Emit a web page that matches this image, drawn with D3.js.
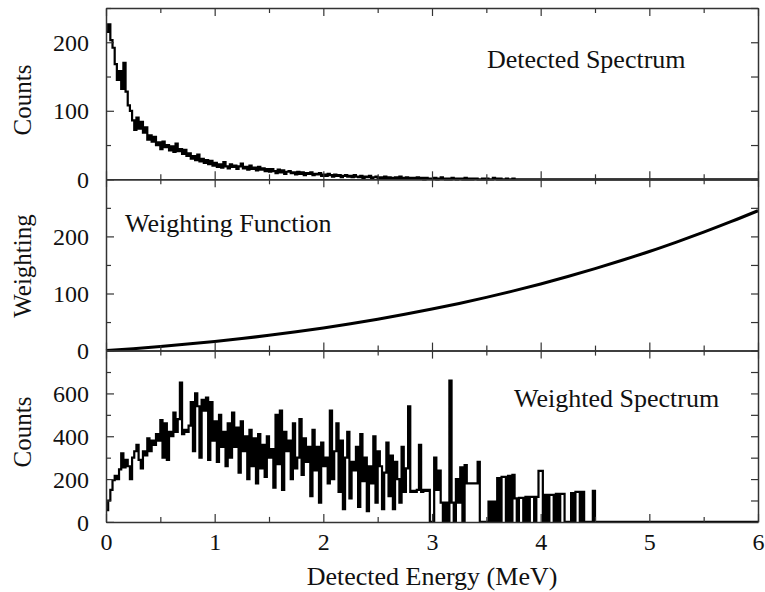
<!DOCTYPE html>
<html lang="en">
<head>
<meta charset="utf-8">
<title>Detected and Weighted Spectrum</title>
<style>
body { margin: 0; background: #fff; }
text { font-family: "Liberation Serif", "DejaVu Serif", serif; fill: #111; }
.tick text { font-size: 24px; }
.domain { stroke: #333; stroke-width: 1.5px; }
.tick line { stroke: #333; stroke-width: 1.2px; }
.panelTitle { font-size: 26px; }
.axisTitle { font-size: 25px; text-anchor: middle; }
.spec { fill: none; stroke: #000; }
</style>
</head>
<body>
<div id="chart"></div>
<script src="https://d3js.org/d3.v7.min.js"></script>
<script>
// bin width of both spectra (MeV)
var binWidth = 0.02;

// detected spectrum, counts per 0.02 MeV bin starting at 0 MeV
var detectedCounts = [
  215, 226, 203, 192, 168, 145, 158, 132, 170, 128,
  108, 100, 86, 72, 90, 74, 84, 68, 76, 58,
  64, 55, 62, 50, 54, 44, 55, 47, 50, 42,
  48, 40, 52, 41, 44, 37, 43, 34, 38, 30,
  34, 28, 36, 26, 30, 24, 28, 22, 27, 20,
  24, 18, 22, 17, 25, 19, 16, 22, 18, 20,
  15, 19, 23, 16, 18, 14, 20, 15, 17, 13,
  18, 14, 16, 12, 15, 11, 15, 12, 9, 14,
  10, 13, 8, 11, 12, 9, 10, 7, 11, 8,
  10, 6, 9, 8, 10, 6, 8, 7, 9, 5,
  7, 5, 8, 6, 4, 7, 5, 6, 3, 5,
  6, 4, 5, 3, 6, 4, 3, 5, 2, 4,
  3, 5, 2, 3, 4, 2, 3, 1, 4, 2,
  3, 2, 1, 3, 2, 4, 1, 2, 3, 1,
  2, 2, 1, 3, 1, 2, 0, 2, 1, 1,
  1, 2, 0, 1, 3, 1, 0, 1, 0, 2,
  1, 0, 1, 1, 0, 2, 0, 1, 0, 1,
  1, 0, 0, 1, 0, 1, 0, 0, 2, 1,
  0, 1, 0, 0, 1, 0, 0, 1, 0, 0
];

// weighting function, read every 0.25 MeV
var weightEnergy = [0, 0.25, 0.5, 0.75, 1, 1.25, 1.5, 1.75, 2, 2.25, 2.5, 2.75, 3,
  3.25, 3.5, 3.75, 4, 4.25, 4.5, 4.75, 5, 5.25, 5.5, 5.75, 6];
var weightValues = [0, 3.4, 7.2, 11.4, 16, 21.1, 26.7, 32.9, 39.7, 47, 54.9, 63.5, 72.7,
  82.6, 93.2, 104.6, 116.7, 129.7, 143.5, 158.2, 173.6, 190.1, 207.4, 225.7, 245];

// weighted spectrum, counts per 0.02 MeV bin starting at 0 MeV
var weightedCounts = [
  55, 100, 150, 195, 215, 200, 245, 320, 255, 290,
  260, 200, 300, 330, 360, 290, 250, 330, 310, 390,
  330, 380, 360, 410, 380, 475, 300, 460, 290, 420,
  400, 510, 420, 480, 650, 410, 430, 420, 450, 560,
  330, 600, 540, 300, 570, 520, 580, 290, 560, 380,
  470, 280, 500, 350, 420, 260, 460, 300, 510, 350,
  440, 230, 470, 330, 400, 200, 430, 260, 390, 180,
  410, 250, 360, 210, 400, 300, 340, 160, 500, 270,
  520, 150, 420, 330, 380, 200, 460, 250, 300, 480,
  220, 390, 280, 350, 120, 430, 240, 350, 90, 370,
  260, 300, 180, 520, 200, 330, 460, 140, 380, 60,
  300, 420, 110, 280, 240, 350, 70, 410, 190, 300,
  50, 260, 180, 400, 90, 330, 260, 60, 230, 370,
  120, 310, 60, 280, 200, 90, 350, 140, 250, 540,
  140, 145, 140, 150, 360, 140, 150, 145, 150, 0,
  0, 300, 150, 240, 90, 0, 90, 0, 660, 90,
  0, 200, 90, 255, 0, 265, 180, 180, 180, 180,
  180, 280, 0, 0, 0, 0, 95, 0, 95, 0,
  205, 0, 210, 210, 0, 215, 0, 220, 110, 0,
  112, 112, 0, 117, 0, 117, 117, 0, 117, 238,
  238, 0, 126, 0, 126, 126, 0, 131, 0, 131,
  131, 0, 0, 0, 135, 0, 140, 140, 0, 140,
  0, 0, 0, 0, 145, 0
];

var xTicks = [0, 1, 2, 3, 4, 5, 6];
var xMinorTicks = [0.5, 1.5, 2.5, 3.5, 4.5, 5.5];

var panels = [
  { name: 'detected', title: 'Detected Spectrum', yLabel: 'Counts', max: 250,
    ticks: [0, 100, 200], minor: [50, 150, 250], titleX: 487, titleY: 68, labelY: 100 },
  { name: 'weighting', title: 'Weighting Function', yLabel: 'Weighting', max: 300,
    ticks: [0, 100, 200], minor: [50, 150, 250], titleX: 125, titleY: 232, labelY: 266 },
  { name: 'weighted', title: 'Weighted Spectrum', yLabel: 'Counts', max: 800,
    ticks: [0, 200, 400, 600], minor: [100, 300, 500, 700], titleX: 514, titleY: 407, labelY: 432 }
];

var margin = { top: 8, left: 106 };
var width = 652;
var panelH = 171.3;

var svg = d3.select('#chart').append('svg')
  .attr('width', 765)
  .attr('height', 592);

var x = d3.scaleLinear().domain([0, 6]).range([0, width]);

// build step data from bin arrays
function stepData(arr) {
  var pts = arr.map(function(v, i) { return { e: i * binWidth, v: v }; });
  pts.push({ e: arr.length * binWidth, v: 0 });
  pts.push({ e: 6, v: 0 });
  return pts;
}

var seriesData = {
  detected: stepData(detectedCounts),
  weighting: weightEnergy.map(function(e, i) { return { e: e, v: weightValues[i] }; }),
  weighted: stepData(weightedCounts)
};

panels.forEach(function(p, k) {
  var g = svg.append('g')
    .attr('transform', 'translate(' + margin.left + ',' + (margin.top + k * panelH) + ')');
  var y = d3.scaleLinear().domain([0, p.max]).range([panelH, 0]);

  // data line
  var line = d3.line()
    .x(function(d) { return x(d.e); })
    .y(function(d) { return y(d.v); })
    .curve(p.name === 'weighting' ? d3.curveMonotoneX : d3.curveStepAfter);
  g.append('path')
    .datum(seriesData[p.name])
    .attr('class', 'spec')
    .attr('stroke-width', p.name === 'weighting' ? 3 : 2.2)
    .attr('d', line);

  // left axis (labels + inward ticks)
  var left = g.append('g')
    .call(d3.axisLeft(y).tickValues(p.ticks).tickSize(-8).tickSizeOuter(0));
  left.selectAll('.tick text')
    .attr('x', -17)
    .attr('dy', '0.34em')
    .style('text-anchor', 'end');
  g.append('g')
    .call(d3.axisLeft(y).tickValues(p.minor).tickSize(-5).tickSizeOuter(0).tickFormat(''))
    .select('.domain').remove();
  // right axis
  g.append('g')
    .attr('transform', 'translate(' + width + ',0)')
    .call(d3.axisRight(y).tickValues(p.ticks.concat(p.minor)).tickSize(-7).tickSizeOuter(0).tickFormat(''));

  // top axis
  g.append('g')
    .call(d3.axisTop(x).tickValues(xTicks).tickSize(-8).tickSizeOuter(0).tickFormat(''));
  g.append('g')
    .call(d3.axisTop(x).tickValues(xMinorTicks).tickSize(-5).tickSizeOuter(0).tickFormat(''))
    .select('.domain').remove();

  // bottom axis
  var last = k === panels.length - 1;
  g.append('g')
    .attr('transform', 'translate(0,' + panelH + ')')
    .call(d3.axisBottom(x).tickValues(xTicks).tickSize(-8).tickSizeOuter(0).tickPadding(11)
      .tickFormat(last ? d3.format('d') : ''));
  g.append('g')
    .attr('transform', 'translate(0,' + panelH + ')')
    .call(d3.axisBottom(x).tickValues(xMinorTicks).tickSize(-5).tickSizeOuter(0).tickFormat(''))
    .select('.domain').remove();

  g.selectAll('.tick text').attr('fill', '#111');

  // panel title
  svg.append('text')
    .attr('class', 'panelTitle')
    .attr('x', p.titleX)
    .attr('y', p.titleY)
    .text(p.title);

  // y axis title
  svg.append('text')
    .attr('class', 'axisTitle')
    .attr('transform', 'translate(31,' + p.labelY + ') rotate(-90)')
    .text(p.yLabel);
});

svg.append('text')
  .attr('class', 'axisTitle')
  .style('font-size', '26px')
  .attr('x', margin.left + width / 2)
  .attr('y', 585)
  .text('Detected Energy (MeV)');
</script>
</body>
</html>
